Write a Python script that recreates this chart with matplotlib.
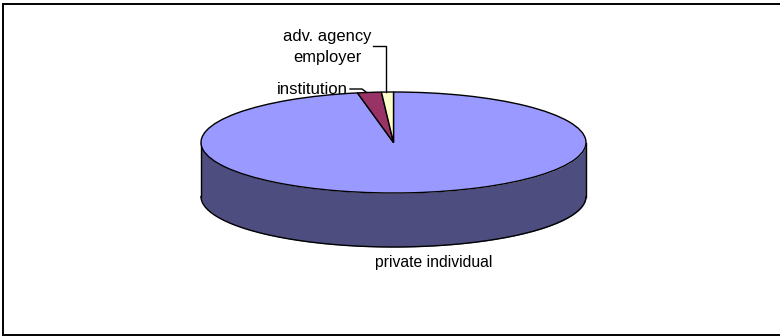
import numpy as np
import matplotlib
matplotlib.use("Agg")
from matplotlib import pyplot as plt
from matplotlib.lines import Line2D

plt.rcParams['font.family'] = ['Liberation Sans', 'DejaVu Sans']

W, H = 780, 336

categories = ["private individual", "institution", "adv. agency\nemployer"]
shares = [97, 2, 1]
slice_colors = ["#9999FF", "#993366", "#FFFFCC"]
wall_color = "#4D4D80"

# thickness of the disc, in units of the vertical radius
depth = 54 / 50.5


def fx(x):
    return x / W


def fy(y):
    return 1 - y / H


def fig_line(xs, ys, lw=1.0, color="black"):
    fig.add_artist(Line2D([fx(x) for x in xs], [fy(y) for y in ys], lw=lw, color=color,
                          solid_joinstyle="miter"))


fig = plt.figure(figsize=(W / 100, H / 100), dpi=100, facecolor="white")

# chart border, runs off the right of the canvas
fig_line([780, 3.5, 3.5, 780], [3.5, 3.5, 334.5, 334.5], lw=1.4)

ax = fig.add_axes([fx(201), fy(247), 385 / W, (101 + 54) / H])

# side wall first, only the front half of the disc is visible
t = np.linspace(np.pi, 2 * np.pi, 200)
xs = np.cos(t)
ys = np.sin(t)
ax.fill_between(xs, ys - depth, ys, color=wall_color, lw=0, zorder=1)
ax.plot(xs, ys - depth, color="black", lw=1.0, zorder=2)
ax.plot([-1, -1], [0, -depth], color="black", lw=1.0, zorder=2)
ax.plot([1, 1], [0, -depth], color="black", lw=1.0, zorder=2)

# top face, pie is squashed by switching the aspect back to auto
wedges, _ = ax.pie(shares, colors=slice_colors, startangle=90, counterclock=False,
                   wedgeprops={"edgecolor": "black", "linewidth": 1.0, "zorder": 3})
ax.set_aspect("auto")
ax.set_xlim(-1, 1)
ax.set_ylim(-1 - depth, 1)
ax.axis("off")
for artist in ax.get_children():
    artist.set_clip_on(False)

# leader lines
fig_line([350, 362, 366], [89, 89, 92])
fig_line([373, 386, 386], [46, 46, 92])

# labels
fs = 11.9
fig.text(fx(277), fy(90), categories[1], fontsize=12.1, ha="left", va="center")
fig.text(fx(327), fy(47), categories[2], fontsize=fs, ha="center", va="center", linespacing=1.55)
fig.text(fx(433.5), fy(263), categories[0], fontsize=11.3, ha="center", va="center")

fig.savefig("out.png", dpi=100)
